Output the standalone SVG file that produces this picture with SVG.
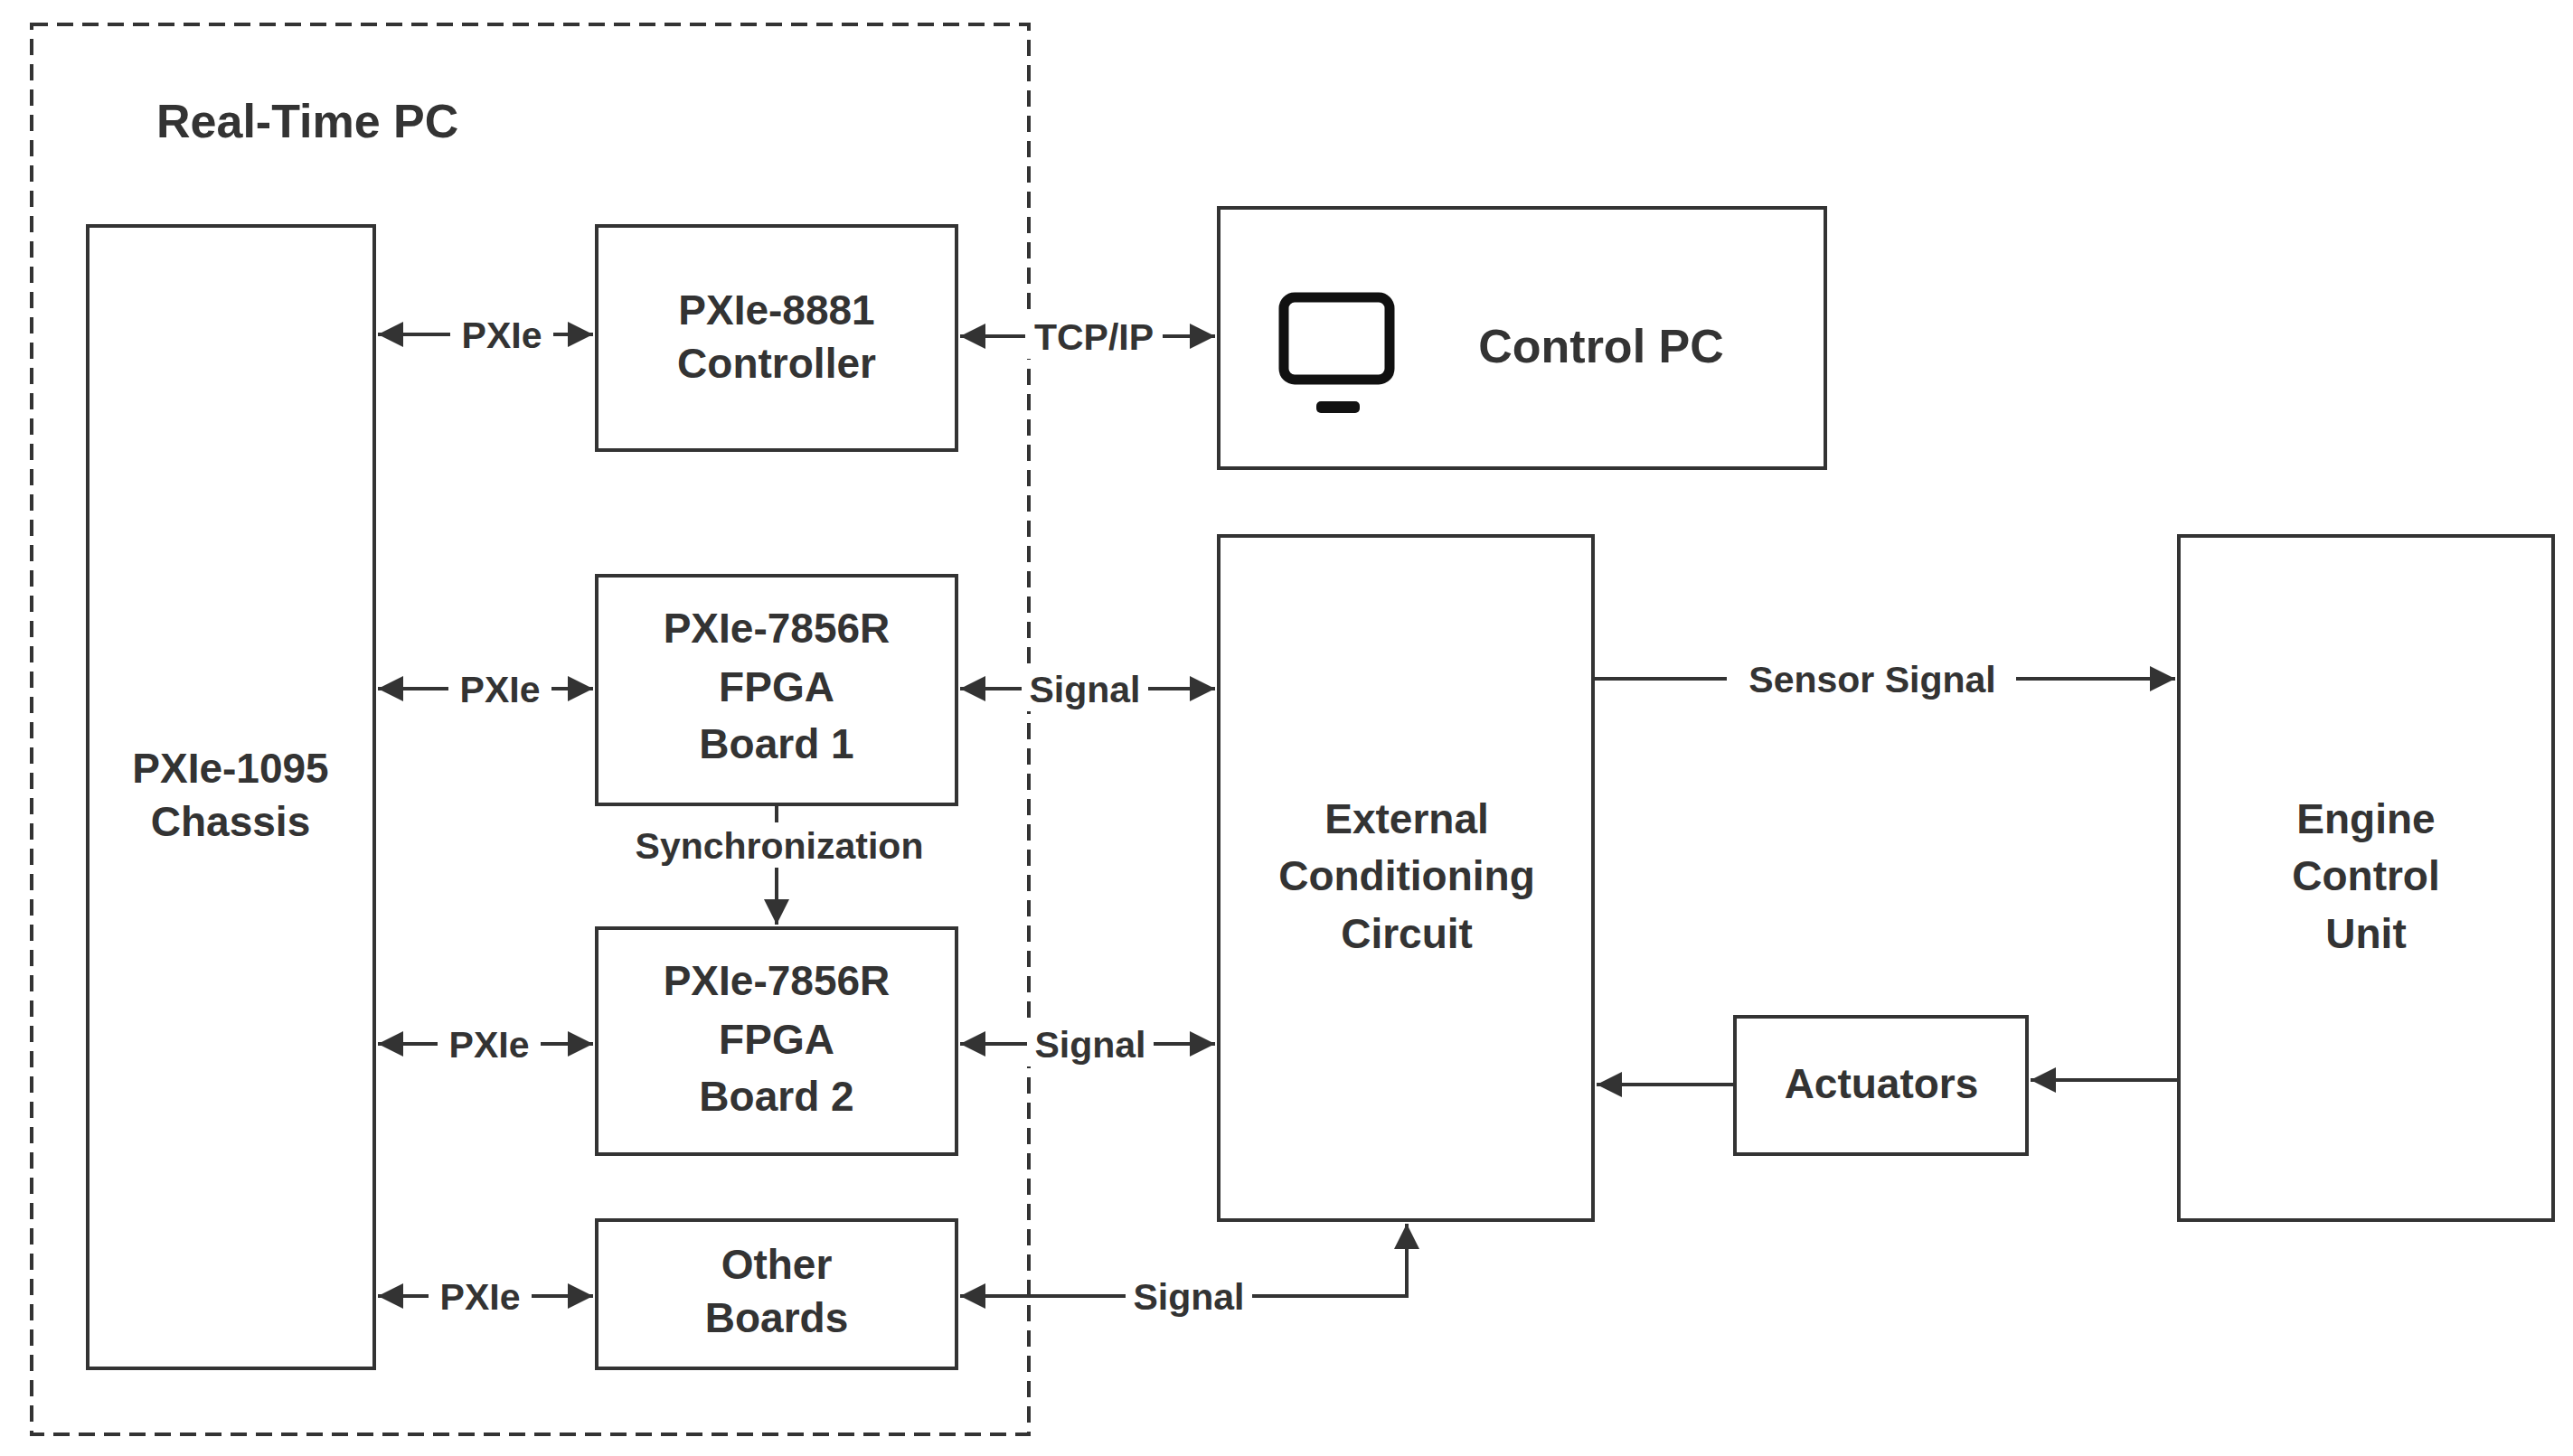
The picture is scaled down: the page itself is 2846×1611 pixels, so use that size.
<svg xmlns="http://www.w3.org/2000/svg" width="2846" height="1611" viewBox="0 0 2846 1611">
<style>
.n{fill:#fff;stroke:#333;stroke-width:4}
.t{font-family:"Liberation Sans",Arial,sans-serif;font-size:46px;font-weight:bold;fill:#333;text-anchor:middle}
.l{font-family:"Liberation Sans",Arial,sans-serif;font-size:41px;font-weight:bold;fill:#333;text-anchor:middle}
.c{fill:none;stroke:#333;stroke-width:4}
.bg{fill:#fff}
</style>
<defs>
<marker id="a" viewBox="0 0 10 10" refX="10" refY="5" markerWidth="11" markerHeight="9" markerUnits="userSpaceOnUse" orient="auto-start-reverse"><path d="M0,0L10,5L0,10z" fill="#333"/></marker>
<marker id="b" viewBox="0 0 10 10" refX="10" refY="5" markerWidth="40" markerHeight="28" markerUnits="userSpaceOnUse" orient="auto-start-reverse"><path d="M0,0L10,5L0,10z" fill="#333"/></marker>
</defs>
<rect width="2846" height="1611" fill="#fff"/>
<g id="realtime-pc">
<rect x="35" y="27" width="1103" height="1560" fill="none" stroke="#333" stroke-width="4" stroke-dasharray="18,10"/>
<text x="173" y="152" class="t" style="text-anchor:start;font-size:52px">Real-Time PC</text>
</g>
<g id="connectors">
<path class="c" d="M418,370H656" marker-start="url(#b)" marker-end="url(#b)"/>
<path class="c" d="M418,762H656" marker-start="url(#b)" marker-end="url(#b)"/>
<path class="c" d="M418,1155H656" marker-start="url(#b)" marker-end="url(#b)"/>
<path class="c" d="M418,1434H656" marker-start="url(#b)" marker-end="url(#b)"/>
<path class="c" d="M1062,372H1344" marker-start="url(#b)" marker-end="url(#b)"/>
<path class="c" d="M1062,762H1344" marker-start="url(#b)" marker-end="url(#b)"/>
<path class="c" d="M1062,1155H1344" marker-start="url(#b)" marker-end="url(#b)"/>
<path class="c" d="M1062,1434H1556V1354" marker-start="url(#b)" marker-end="url(#b)"/>
<path class="c" d="M859,890V1023" marker-end="url(#b)"/>
<path class="c" d="M1762,751H2406" marker-end="url(#b)"/>
<path class="c" d="M2410,1195H2246" marker-end="url(#b)"/>
<path class="c" d="M1919,1200H1766" marker-end="url(#b)"/>
<rect class="bg" x="498" y="345" width="114" height="50"/><text class="l" x="555" y="385">PXIe</text>
<rect class="bg" x="496" y="737" width="114" height="50"/><text class="l" x="553" y="777">PXIe</text>
<rect class="bg" x="484" y="1130" width="114" height="50"/><text class="l" x="541" y="1170">PXIe</text>
<rect class="bg" x="474" y="1409" width="114" height="50"/><text class="l" x="531" y="1449">PXIe</text>
<rect class="bg" x="1134" y="347" width="152" height="50"/><text class="l" x="1210" y="387">TCP/IP</text>
<rect class="bg" x="1130" y="737" width="140" height="50"/><text class="l" x="1200" y="777">Signal</text>
<rect class="bg" x="1136" y="1130" width="140" height="50"/><text class="l" x="1206" y="1170">Signal</text>
<rect class="bg" x="1245" y="1409" width="140" height="50"/><text class="l" x="1315" y="1449">Signal</text>
<rect class="bg" x="680" y="910" width="360" height="50"/><text class="l" x="862" y="950">Synchronization</text>
<rect class="bg" x="1910" y="726" width="320" height="50"/><text class="l" x="2071" y="766">Sensor Signal</text>
</g>
<g id="chassis"><rect class="n" x="97" y="250" width="317" height="1264"/><text class="t" x="255" y="866">PXIe-1095</text><text class="t" x="255" y="925">Chassis</text></g>
<g id="controller"><rect class="n" x="660" y="250" width="398" height="248"/><text class="t" x="859" y="359">PXIe-8881</text><text class="t" x="859" y="418">Controller</text></g>
<g id="fpga1"><rect class="n" x="660" y="637" width="398" height="253"/><text class="t" x="859" y="711">PXIe-7856R</text><text class="t" x="859" y="776">FPGA</text><text class="t" x="859" y="839">Board 1</text></g>
<g id="fpga2"><rect class="n" x="660" y="1027" width="398" height="250"/><text class="t" x="859" y="1101">PXIe-7856R</text><text class="t" x="859" y="1166">FPGA</text><text class="t" x="859" y="1229">Board 2</text></g>
<g id="other"><rect class="n" x="660" y="1350" width="398" height="164"/><text class="t" x="859" y="1415">Other</text><text class="t" x="859" y="1474">Boards</text></g>
<g id="control-pc"><rect class="n" x="1348" y="230" width="671" height="288"/>
<rect x="1420" y="329" width="117" height="91" rx="12" fill="none" stroke="#111" stroke-width="11"/>
<rect x="1456" y="444" width="48" height="13" rx="5" fill="#111"/>
<text class="t" x="1771" y="401" style="font-size:52px">Control PC</text></g>
<g id="ecc"><rect class="n" x="1348" y="593" width="414" height="757"/><text class="t" x="1556" y="922">External</text><text class="t" x="1556" y="985">Conditioning</text><text class="t" x="1556" y="1049">Circuit</text></g>
<g id="ecu"><rect class="n" x="2410" y="593" width="414" height="757"/><text class="t" x="2617" y="922">Engine</text><text class="t" x="2617" y="985">Control</text><text class="t" x="2617" y="1049">Unit</text></g>
<g id="actuators"><rect class="n" x="1919" y="1125" width="323" height="152"/><text class="t" x="2081" y="1215">Actuators</text></g>
</svg>
